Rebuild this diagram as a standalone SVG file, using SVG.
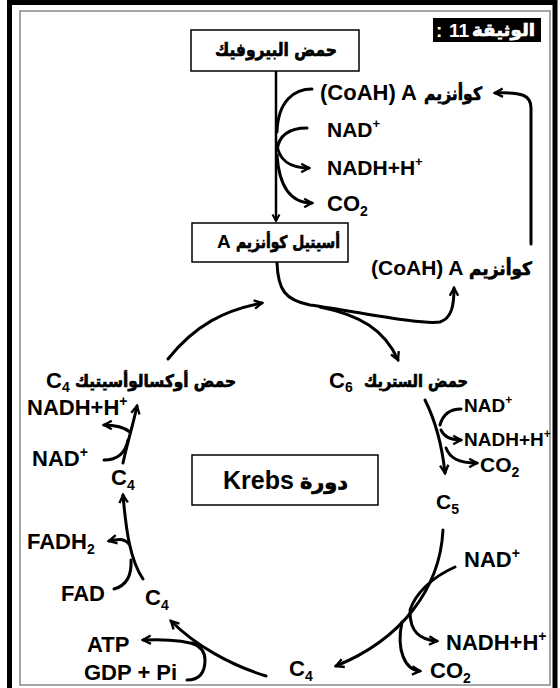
<svg xmlns="http://www.w3.org/2000/svg" width="560" height="688" viewBox="0 0 560 688">
<defs>
<style>
.t{font-family:"Liberation Sans","DejaVu Sans",sans-serif;font-weight:bold;fill:#000;}
.ar{font-family:"DejaVu Sans","Liberation Sans",sans-serif;font-weight:bold;fill:#000;stroke:#000;stroke-width:0.7;}
.box{fill:#fff;stroke:#000;stroke-width:1.5;}
.c{fill:none;stroke:#000;stroke-width:3;stroke-linecap:round;}
.ca{fill:none;stroke:#000;stroke-width:3;stroke-linecap:round;marker-end:url(#ah);}
</style>
<marker id="ah" viewBox="0 0 10 10" refX="8" refY="5" markerWidth="4" markerHeight="4" orient="auto">
<path d="M1.5,1.5 L8,5 L1.5,8.5" fill="none" stroke="#000" stroke-width="2" stroke-linejoin="miter"/>
</marker>
</defs>
<rect x="0" y="0" width="560" height="688" fill="#fff"/>
<rect x="9.5" y="2.5" width="545.5" height="700" fill="none" stroke="#000" stroke-width="5"/>
<rect x="20" y="11" width="530" height="674" fill="none" stroke="#888" stroke-width="1.5"/>

<g id="title">
<rect x="433" y="18" width="108" height="24" fill="#000"/>
<text class="t" x="436" y="37" font-size="19" style="fill:#fff">:</text>
<text class="t" x="449" y="37" font-size="19" style="fill:#fff">11</text>
<text class="ar" x="472" y="36" font-size="17" textLength="63" lengthAdjust="spacingAndGlyphs" style="fill:#fff;stroke:#fff">الوثيقة</text>
</g>

<g id="connectors">
<path d="M276,70 L276,221" fill="none" stroke="#000" stroke-width="2.5" marker-end="url(#ah)"/>
<path class="c" d="M312,89 C295,89 278,100 277,132"/>
<path class="c" d="M307,128 C290,128 279,135 277,150"/>
<path class="ca" d="M277,143 C278,160 290,168 309,168"/>
<path class="ca" d="M277,155 C279,185 290,203 312,203"/>
<path class="ca" d="M531,244 L531,108 C531,95 522,92 495,93"/>
<path class="ca" d="M277,263 C278,290 285,300 310,305 C360,312 420,325 440,322 C452,318 454,305 454,288"/>
<path class="ca" d="M320,307 C360,315 385,330 398,360"/>
<path class="ca" d="M168,359 C195,325 225,310 262,303"/>
<path class="ca" d="M425,400 C435,420 442,445 445,473"/>
<path class="c" d="M461,409 C450,409 443,414 440,425"/>
<path class="ca" d="M441,430 C444,437 450,440 461,440"/>
<path class="ca" d="M446,448 C450,458 458,463 477,463"/>
<path class="ca" d="M443,530 C440,590 400,640 336,666"/>
<path class="c" d="M455,567 C430,578 415,595 410,610"/>
<path class="ca" d="M410,612 C410,632 420,640 437,641"/>
<path class="ca" d="M402,622 C396,650 405,670 420,671"/>
<path class="ca" d="M266,676 C230,665 195,645 171,621"/>
<path class="c" d="M187,680 C200,680 205,672 205,660 C205,652 200,646 192,643"/>
<path class="ca" d="M200,646 C185,640 165,639 143,640"/>
<path class="ca" d="M143,579 C130,560 126,530 123,495"/>
<path class="ca" d="M129,544 C124,538 118,539 109,541"/>
<path class="c" d="M114,589 C125,586 132,578 131,560"/>
<path class="ca" d="M123,463 C128,440 133,425 137,406"/>
<path class="c" d="M104,460 C115,460 125,455 128,440"/>
<path class="ca" d="M130,432 C125,428 115,425 104,425"/>
</g>

<g id="pyruvate">
<rect class="box" x="191" y="30" width="168" height="41"/>
<text class="ar" x="215" y="56" font-size="18" textLength="122" lengthAdjust="spacingAndGlyphs">حمض البيروفيك</text>
</g>
<g id="acetylcoa">
<rect class="box" x="192" y="223" width="156" height="39"/>
<text class="t" x="217" y="248" font-size="19">A</text>
<text class="ar" x="236" y="248" font-size="17" textLength="104" lengthAdjust="spacingAndGlyphs">أسيتيل كوأنزيم</text>
</g>
<g id="krebs">
<rect class="box" x="192" y="455" width="186" height="50"/>
<text class="t" x="223" y="489" font-size="25">Krebs</text>
<text class="ar" x="300" y="489" font-size="20" textLength="48" lengthAdjust="spacingAndGlyphs">دورة</text>
</g>

<g id="coah-in">
<text class="t" x="320" y="100" font-size="22">(CoAH) A</text>
<text class="ar" x="424" y="100" font-size="18" textLength="58" lengthAdjust="spacingAndGlyphs">كوأنزيم</text>
</g>
<g id="nad-top"><text class="t" x="327" y="137" font-size="21">NAD<tspan font-size="13" dy="-9">+</tspan></text></g>
<g id="nadh-top"><text class="t" x="327" y="175" font-size="21">NADH+H<tspan font-size="13" dy="-9">+</tspan></text></g>
<g id="co2-top"><text class="t" x="327" y="211" font-size="22">CO<tspan font-size="14" dy="5">2</tspan></text></g>
<g id="coah-out">
<text class="t" x="371" y="275" font-size="21">(CoAH) A</text>
<text class="ar" x="469" y="275" font-size="18" textLength="63" lengthAdjust="spacingAndGlyphs">كوأنزيم</text>
</g>

<g id="citrate">
<text class="t" x="329" y="388" font-size="22">C<tspan font-size="14" dy="4">6</tspan></text>
<text class="ar" x="364" y="387" font-size="17" textLength="104" lengthAdjust="spacingAndGlyphs">حمض الستريك</text>
</g>
<g id="oxaloacetate">
<text class="t" x="46" y="388" font-size="22">C<tspan font-size="14" dy="4">4</tspan></text>
<text class="ar" x="75" y="387" font-size="17" textLength="161" lengthAdjust="spacingAndGlyphs">حمض أوكسالوأسيتيك</text>
</g>

<g id="nad-r1"><text class="t" x="464" y="412" font-size="19">NAD<tspan font-size="12" dy="-8">+</tspan></text></g>
<g id="nadh-r1"><text class="t" x="464" y="446" font-size="19">NADH+H<tspan font-size="12" dy="-8">+</tspan></text></g>
<g id="co2-r1"><text class="t" x="480" y="472" font-size="21">CO<tspan font-size="14" dy="5">2</tspan></text></g>
<g id="c5"><text class="t" x="436" y="509" font-size="21">C<tspan font-size="14" dy="5">5</tspan></text></g>
<g id="nad-r2"><text class="t" x="464" y="567" font-size="22">NAD<tspan font-size="14" dy="-9">+</tspan></text></g>
<g id="nadh-r2"><text class="t" x="446" y="650" font-size="22">NADH+H<tspan font-size="14" dy="-9">+</tspan></text></g>
<g id="co2-r2"><text class="t" x="430" y="678" font-size="22">CO<tspan font-size="14" dy="5">2</tspan></text></g>
<g id="c4-bottom"><text class="t" x="289" y="676" font-size="22">C<tspan font-size="14" dy="5">4</tspan></text></g>
<g id="atp"><text class="t" x="87" y="652" font-size="22">ATP</text></g>
<g id="gdp"><text class="t" x="84" y="680" font-size="22">GDP + Pi</text></g>
<g id="c4-lower"><text class="t" x="145" y="605" font-size="22">C<tspan font-size="14" dy="5">4</tspan></text></g>
<g id="fad"><text class="t" x="61" y="601" font-size="22">FAD</text></g>
<g id="fadh2"><text class="t" x="27" y="549" font-size="22">FADH<tspan font-size="14" dy="5">2</tspan></text></g>
<g id="c4-upper"><text class="t" x="111" y="485" font-size="22">C<tspan font-size="14" dy="5">4</tspan></text></g>
<g id="nad-left"><text class="t" x="32" y="466" font-size="22">NAD<tspan font-size="14" dy="-9">+</tspan></text></g>
<g id="nadh-left"><text class="t" x="27" y="415" font-size="22">NADH+H<tspan font-size="14" dy="-9">+</tspan></text></g>
</svg>
